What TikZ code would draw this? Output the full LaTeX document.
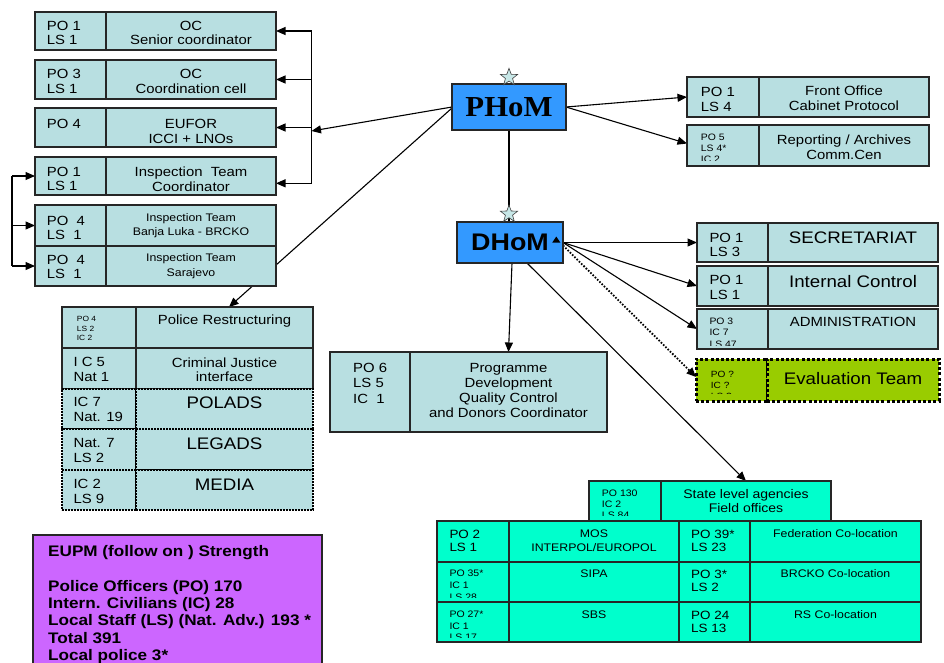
\documentclass[tikz,border=0pt]{standalone}
\usepackage{fontspec}
\setmainfont{Liberation Sans}[FakeStretch=1.12]
\newfontfamily\phomfont{Liberation Serif}[FakeStretch=1.06]
\usetikzlibrary{arrows.meta,shapes.geometric,backgrounds}
\definecolor{cellc}{HTML}{B8DFE1}
\definecolor{bluec}{HTML}{3399FF}
\definecolor{aquac}{HTML}{00FFCC}
\definecolor{greenc}{HTML}{99CC00}
\definecolor{purplec}{HTML}{CC66FF}
\definecolor{starc}{HTML}{C8E8E8}
\definecolor{edgec}{HTML}{262626}
\tikzset{
  cellbase/.style={draw=edgec, line width=1.2pt, inner sep=0pt, outer sep=0pt},
  fs/.style 2 args={font=\fontsize{#1}{#2}\selectfont},
  fsb/.style 2 args={font=\bfseries\fontsize{#1}{#2}\selectfont},
  lt/.style={anchor=north west, align=left, inner sep=0pt},
  ct/.style={anchor=north, align=center, inner sep=0pt},
  conn/.style={line width=1.1pt, draw=black},
  arr/.style={conn, -{Triangle[length=9.5pt,width=8pt]}},
  dotcell/.style={fill=cellc, draw=black, line width=1.6pt, dash pattern=on 1.6pt off 1.4pt},
  evalcell/.style={fill=greenc, draw=black, line width=3pt, dash pattern=on 3pt off 2.2pt},
}
\newcommand\mkcell[6]{\node[cellbase,#6,minimum width={(#4-#2)*1pt},minimum height={(#5-#3)*1pt},anchor=north west] (#1) at (#2,#3) {};}
\newcommand\ltext[5]{\node[lt,#4] (#1) at (#2,#3) {#5};}
\newcommand\ctext[5]{\node[ct,#4] (#1) at (#2,#3) {#5};}
\begin{document}
\begin{tikzpicture}[x=1pt,y=-1pt]
\begin{pgfonlayer}{background}
\fill[white] (0,0) rectangle (944,662);
\end{pgfonlayer}
\useasboundingbox (0,0) rectangle (944,662);

% ---------- top-left column ----------
\mkcell{B1l}{35}{12}{106}{50}{fill=cellc}
\mkcell{B1r}{106}{12}{276}{50}{fill=cellc}
\mkcell{B2l}{35}{60}{106}{99}{fill=cellc}
\mkcell{B2r}{106}{60}{276}{99}{fill=cellc}
\mkcell{B3l}{35}{108}{106}{147}{fill=cellc}
\mkcell{B3r}{106}{108}{276}{147}{fill=cellc}
\mkcell{B4l}{35}{157}{106}{195}{fill=cellc}
\mkcell{B4r}{106}{157}{276}{195}{fill=cellc}
\mkcell{B5l}{35}{205}{106}{246}{fill=cellc}
\mkcell{B5r}{106}{205}{276}{246}{fill=cellc}
\mkcell{B6l}{35}{246}{106}{286}{fill=cellc}
\mkcell{B6r}{106}{246}{276}{286}{fill=cellc}
\ltext{B1lt}{46.7}{20.7}{fs={13.3}{14.7}}{PO 1\\LS 1}
\ctext{B1rt}{191}{20.7}{fs={13.3}{14.7}}{OC\\Senior coordinator}
\ltext{B2lt}{46.7}{69}{fs={13.3}{14.7}}{PO 3\\LS 1}
\ctext{B2rt}{191}{69}{fs={13.3}{14.7}}{OC\\Coordination cell}
\ltext{B3lt}{46.7}{119}{fs={13.3}{14.7}}{PO 4}
\ctext{B3rt}{191}{119}{fs={13.3}{14.7}}{EUFOR\\ICCI + LNOs}
\ltext{B4lt}{46.7}{166.7}{fs={13.3}{14.7}}{PO 1\\LS 1}
\ctext{B4rt}{191}{166.7}{fs={13.3}{14.7}}{Inspection~ Team\\Coordinator}
\ltext{B5lt}{46.7}{215.7}{fs={13.3}{14.3}}{PO~ 4\\LS~ 1}
\ctext{B5rt}{191}{213}{fs={11}{14}}{Inspection Team\\Banja Luka - BRCKO}
\ltext{B6lt}{46.7}{255}{fs={13.3}{14.3}}{PO~ 4\\LS~ 1}
\ctext{B6rt}{191}{253.7}{fs={11}{14.5}}{Inspection Team\\Sarajevo}

% ---------- middle-left group ----------
\mkcell{PRl}{62}{307}{136}{348}{fill=cellc}
\mkcell{PRr}{136}{307}{313}{348}{fill=cellc}
\mkcell{CJl}{62}{348}{136}{389}{fill=cellc}
\mkcell{CJr}{136}{348}{313}{389}{fill=cellc}
\mkcell{POLl}{62}{389}{136}{429}{dotcell}
\mkcell{POLr}{136}{389}{313}{429}{dotcell}
\mkcell{LEGl}{62}{429}{136}{470}{dotcell}
\mkcell{LEGr}{136}{429}{313}{470}{dotcell}
\mkcell{MEDl}{62}{470}{136}{510}{dotcell}
\mkcell{MEDr}{136}{470}{313}{510}{dotcell}
\ltext{PRlt}{76.7}{316.5}{fs={7.5}{9.5}}{PO 4\\LS 2\\IC 2}
\ctext{PRrt}{224.5}{315}{fs={13.3}{14.7}}{Police Restructuring}
\ltext{CJlt}{73.3}{357.3}{fs={13.3}{14.7}}{I C 5\\Nat 1}
\ctext{CJrt}{224.5}{357.3}{fs={13.3}{14.7}}{Criminal Justice\\interface}
\ltext{POLlt}{73.3}{397.3}{fs={13.3}{14.7}}{IC 7\\Nat. 19}
\ctext{POLrt}{224.5}{397}{fs={16.7}{18}}{POLADS}
\ltext{LEGlt}{73.3}{438.3}{fs={13.3}{14.7}}{Nat. 7\\LS 2}
\ctext{LEGrt}{224.5}{438}{fs={16.7}{18}}{LEGADS}
\ltext{MEDlt}{73.3}{479.3}{fs={13.3}{14.7}}{IC 2\\LS 9}
\ctext{MEDrt}{224.5}{479}{fs={16.7}{18}}{MEDIA}

% ---------- PHoM / DHoM ----------
\node[cellbase, fill=bluec, minimum width=114pt, minimum height=46pt,
      font=\phomfont\bfseries\fontsize{29}{30}\selectfont] (PHoM) at (509,107) {PHoM};
\node[cellbase, fill=bluec, minimum width=106pt, minimum height=41pt,
      font=\bfseries\fontsize{24}{26}\selectfont] (DHoM) at (510,242.5) {DHoM};
\node[star, star points=5, star point ratio=2.4, minimum size=18pt, inner sep=0pt,
      fill=starc, draw=black!75, line width=0.6pt] (S1) at (509,77.3) {};
\node[star, star points=5, star point ratio=2.4, minimum size=18pt, inner sep=0pt,
      fill=starc, draw=black!75, line width=0.6pt] (S2) at (509,214) {};
\fill[black] (552.3,242.5) -- (556.3,236.5) -- (560.3,242.5) -- cycle;

% ---------- right column ----------
\mkcell{FOl}{687}{77}{759}{117}{fill=cellc}
\mkcell{FOr}{759}{77}{929}{117}{fill=cellc}
\mkcell{Repl}{687}{125}{759}{166}{fill=cellc}
\mkcell{Repr}{759}{125}{929}{166}{fill=cellc}
\ltext{FOlt}{700.7}{86.7}{fs={13.3}{15}}{PO 1\\LS 4}
\ctext{FOrt}{844}{86}{fs={13.3}{15}}{Front Office\\Cabinet Protocol}
\begin{scope}
\clip (Repl.north west) rectangle ([yshift=6pt]Repl.south east);
\ltext{Replt}{700.7}{134}{fs={9.3}{11}}{PO 5\\LS 4*\\IC 2}
\end{scope}
\ctext{Reprt}{844}{135}{fs={13.3}{15}}{Reporting / Archives\\Comm.Cen}

\mkcell{Secl}{697}{223}{768}{262}{fill=cellc}
\mkcell{Secr}{768}{223}{938}{262}{fill=cellc}
\mkcell{ICl}{697}{266}{768}{306}{fill=cellc}
\mkcell{ICr}{768}{266}{938}{306}{fill=cellc}
\mkcell{Adml}{697}{309}{768}{349}{fill=cellc}
\mkcell{Admr}{768}{309}{938}{349}{fill=cellc}
\mkcell{Evl}{696}{359}{767}{401}{evalcell}
\mkcell{Evr}{767}{359}{939}{401}{evalcell}
\ltext{Seclt}{709.3}{232.7}{fs={13.3}{14.7}}{PO 1\\LS 3}
\ctext{Secrt}{853}{231.7}{fs={16.7}{18}}{SECRETARIAT}
\ltext{IClt}{709.3}{275}{fs={13.3}{14.7}}{PO 1\\LS 1}
\ctext{ICrt}{853}{275}{fs={16.7}{18}}{Internal Control}
\begin{scope}
\clip (Adml.north west) rectangle ([yshift=4pt]Adml.south east);
\ltext{Admlt}{709.3}{317.3}{fs={9.3}{11.7}}{PO 3\\IC 7\\LS 47}
\end{scope}
\ctext{Admrt}{853}{317.3}{fs={13.3}{14.7}}{ADMINISTRATION}
\begin{scope}
\clip (Evl.north west) rectangle ([yshift=8pt]Evl.south east);
\ltext{Evlt}{710.7}{370.7}{fs={9}{11}}{PO ?\\IC ?\\LS ?}
\end{scope}
\ctext{Evrt}{853}{371.7}{fs={16.7}{18}}{Evaluation Team}

% ---------- Programme ----------
\mkcell{Progl}{330}{352}{410}{432}{fill=cellc}
\mkcell{Progr}{410}{352}{607}{432}{fill=cellc}
\ltext{Proglt}{353}{363.3}{fs={13.3}{15.2}}{PO 6\\LS 5\\IC~ 1}
\ctext{Progrt}{508.5}{362.7}{fs={13.3}{15.2}}{Programme\\Development\\Quality Control\\and Donors Coordinator}

% ---------- State level / grid ----------
\mkcell{Stl}{589}{481}{661}{521}{fill=aquac}
\mkcell{Str}{661}{481}{831}{521}{fill=aquac}
\begin{scope}
\clip (Stl.north west) rectangle ([yshift=6pt]Stl.south east);
\ltext{Stlt}{601.7}{490}{fs={9.4}{11}}{PO 130\\IC 2\\LS 84}
\end{scope}
\ctext{Strt}{746}{489}{fs={12.5}{14.3}}{State level agencies\\Field offices}

\mkcell{G1a}{437}{521}{509}{562}{fill=aquac}
\mkcell{G1b}{509}{521}{679}{562}{fill=aquac}
\mkcell{G1c}{679}{521}{750}{562}{fill=aquac}
\mkcell{G1d}{750}{521}{921}{562}{fill=aquac}
\mkcell{G2a}{437}{562}{509}{602}{fill=aquac}
\mkcell{G2b}{509}{562}{679}{602}{fill=aquac}
\mkcell{G2c}{679}{562}{750}{602}{fill=aquac}
\mkcell{G2d}{750}{562}{921}{602}{fill=aquac}
\mkcell{G3a}{437}{602}{509}{642}{fill=aquac}
\mkcell{G3b}{509}{602}{679}{642}{fill=aquac}
\mkcell{G3c}{679}{602}{750}{642}{fill=aquac}
\mkcell{G3d}{750}{602}{921}{642}{fill=aquac}
\ltext{G1at}{449.3}{530}{fs={12}{13}}{PO 2\\LS 1}
\ctext{G1bt}{594}{530}{fs={11}{13.3}}{MOS\\INTERPOL/EUROPOL}
\ltext{G1ct}{691}{530}{fs={12}{13}}{PO 39*\\LS 23}
\ctext{G1dt}{835.5}{529.3}{fs={11}{13.3}}{Federation Co-location}
\begin{scope}
\clip (G2a.north west) rectangle ([yshift=5pt]G2a.south east);
\ltext{G2at}{449.3}{570}{fs={9.4}{11.7}}{PO 35*\\IC 1\\LS 28}
\end{scope}
\ctext{G2bt}{594}{570}{fs={11}{13.3}}{SIPA}
\ltext{G2ct}{691}{570}{fs={12}{13}}{PO 3*\\LS 2}
\ctext{G2dt}{835.5}{569}{fs={11}{13.3}}{BRCKO Co-location}
\begin{scope}
\clip (G3a.north west) rectangle ([yshift=5pt]G3a.south east);
\ltext{G3at}{449.3}{610.7}{fs={9.4}{11.7}}{PO 27*\\IC 1\\LS 17}
\end{scope}
\ctext{G3bt}{594}{610.7}{fs={11}{13.3}}{SBS}
\ltext{G3ct}{691}{610.7}{fs={12}{13}}{PO 24\\LS 13}
\ctext{G3dt}{835.5}{610}{fs={11}{13.3}}{RS Co-location}

% ---------- strength box ----------
\mkcell{Strength}{33}{535}{322}{664}{fill=purplec}
\ltext{Strengtht}{48}{545}{fsb={15.3}{17.4}}{EUPM (follow on ) Strength\\[17.4pt]Police Officers (PO) 170\\Intern. Civilians (IC) 28\\Local Staff (LS) (Nat. Adv.) 193 *\\Total 391\\Local police 3*}

% ---------- connectors ----------
\coordinate (bus) at (311.5,131);
\coordinate (busT) at (311.5,31);
\coordinate (busB) at (311.5,183.3);
\coordinate (lbT) at (12,176);
\coordinate (lbB) at (12,266);
\begin{pgfonlayer}{background}
\draw[arr] (PHoM.west) -- (bus);
\draw[arr] ([yshift=-1pt]PHoM.west) -- ([xshift=4.5pt]PRr.north);
\draw[conn] (PHoM.south) -- (PHoM.south |- DHoM.north);
\draw[arr] (PHoM.east) -- (FOl.west);
\draw[arr] (PHoM.east) -- ([yshift=2pt]Repl.west);
\draw[arr] (DHoM.east) -- (Secl.west);
\draw[arr] (DHoM.east) -- (ICl.west);
\draw[arr] (DHoM.east) -- (Adml.west);
\draw[arr, line width=1.8pt, dash pattern=on 1.6pt off 1.6pt] ([yshift=-3pt]DHoM.east) -- ([yshift=3pt]Evl.west);
\draw[arr] ([xshift=2pt]DHoM.south) -- (Progr.north);
\draw[arr] ([xshift=17pt]DHoM.south) -- (Str.north);
\draw[conn] (busT) -- (busB);
\draw[arr] (busT) -- (B1r.east);
\draw[arr] (B2r.east -| busT) -- (B2r.east);
\draw[arr] (B3r.east -| busT) -- (B3r.east);
\draw[arr] (busB) -- (busB -| B4r.east);
\draw[conn] (lbT) -- (lbB);
\draw[arr] (lbT) -- (B4l.west);
\draw[arr] (B5l.west -| lbT) -- (B5l.west);
\draw[arr] (lbB) -- (B6l.west);
\end{pgfonlayer}
\end{tikzpicture}
\end{document}
